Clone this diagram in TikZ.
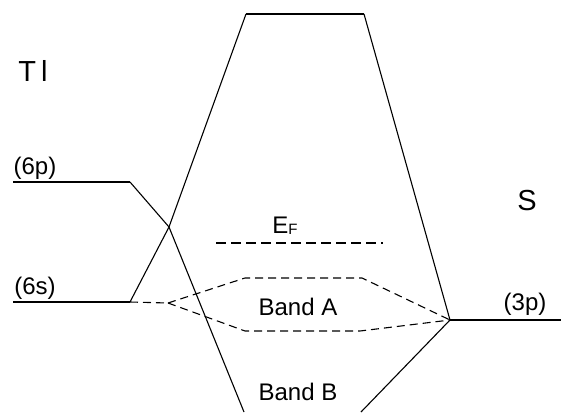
\documentclass[tikz,border=0pt]{standalone}
\usepackage{fontspec}
\setmainfont{Liberation Sans}
\begin{document}
\begin{tikzpicture}[x=1pt,y=-1pt,
  level/.style={line width=1.6pt},
  orb/.style={line width=1.1pt},
  band/.style={line width=1.1pt,dash pattern=on 8pt off 5pt},
  fermi/.style={line width=1.9pt,dash pattern=on 10pt off 5pt},
  lbl/.style={inner sep=0pt,font=\fontsize{24}{28}\selectfont},
  big/.style={inner sep=0pt,font=\fontsize{29}{33}\selectfont}]
\useasboundingbox (0,0) rectangle (561,412);
% vertices
\coordinate (p6L) at (13,182);
\coordinate (p6R) at (130,182);
\coordinate (s6L) at (13,302);
\coordinate (s6R) at (130,302);
\coordinate (X) at (169,227);
\coordinate (topL) at (246,14);
\coordinate (topR) at (364,14);
\coordinate (p3) at (450,320);
\coordinate (p3R) at (561,320);
\coordinate (botL) at (244,412);
\coordinate (botR) at (361,412);
\coordinate (v0) at (168,303);
\coordinate (uA) at (245,278);
\coordinate (uB) at (362,278);
\coordinate (lA) at (245,331);
\coordinate (lB) at (360,331);
\coordinate (efL) at (216,243);
\coordinate (efR) at (383,243);
% levels
\draw[level] (p6L) -- (p6R);
\draw[level] (s6L) -- (s6R);
\draw[level] (topL) -- (topR);
\draw[level] (p3) -- (p3R);
% orbital correlation lines
\draw[orb] (p6R) -- (X) -- (botL);
\draw[orb] (s6R) -- (X) -- (topL);
\draw[orb] (topR) -- (p3) -- (botR);
% band A
\draw[band] (s6R) -- (v0);
\draw[band] (v0) -- (uA) -- (uB) -- (p3);
\draw[band] (v0) -- (lA) -- (lB) -- (p3);
% Fermi level
\draw[fermi] (efL) -- (efR);
% labels
\node[big] (tl) at (33,71) {T\hspace{5pt}l};
\node[lbl] (l6p) at (35,168) {(6p)};
\node[lbl] (l6s) at (35,288) {(6s)};
\node[big] (s) at (527,201) {S};
\node[lbl] (l3p) at (525,304) {(3p)};
\node[lbl] (ef) at (285,226) {E\raisebox{-1pt}{\fontsize{15}{16}\selectfont F}};
\node[lbl] (bA) at (298,307) {Band A};
\node[lbl] (bB) at (298,392) {Band B};
\end{tikzpicture}
\end{document}
